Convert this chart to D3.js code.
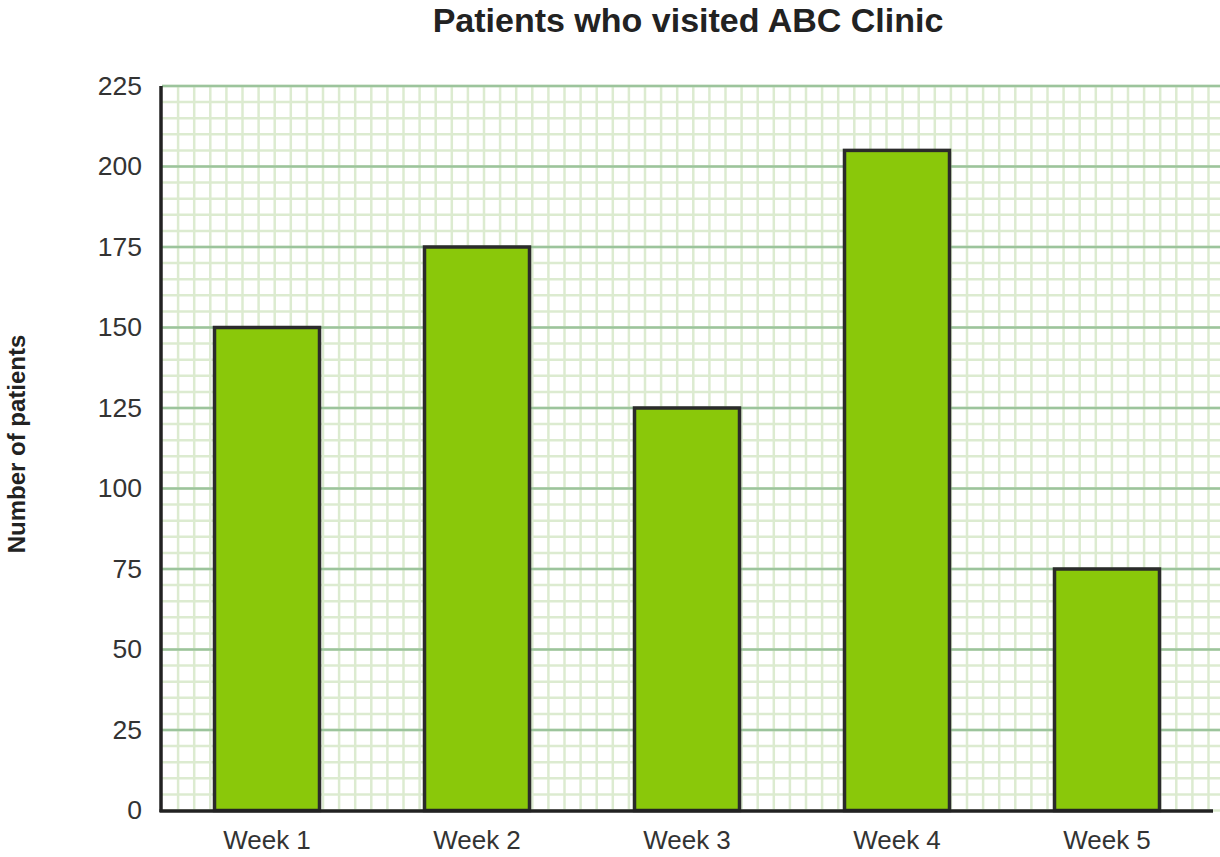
<!DOCTYPE html>
<html>
<head>
  <style>
    body { margin: 0px; padding: 0px; background: #fff; }
    svg text { font-family: Arial, "Liberation Sans", sans-serif; }
  </style>
</head>
<body>
  <div id="chart"></div>
  <script src="https://cdn.jsdelivr.net/npm/d3@7"></script>
  <script>
    // data
    var weeks = ['Week 1', 'Week 2', 'Week 3', 'Week 4', 'Week 5'];
    var patients = [150, 175, 125, 205, 75];
    var yTicks = [0, 25, 50, 75, 100, 125, 150, 175, 200, 225];

    var width = 1220, height = 857;
    var plotLeft = 162, plotRight = 1212, plotTop = 86, plotBottom = 810.5;

    var svg = d3.select('#chart').append('svg')
      .attr('width', width).attr('height', height);

    var y = d3.scaleLinear().domain([0, 225]).range([plotBottom, plotTop]);
    var x = d3.scaleBand().domain(weeks).range([plotLeft, plotRight])
      .paddingInner(0.5).paddingOuter(0.25);

    // minor grid, 5 units a square, same size both ways
    var cell = y(0) - y(5);
    var grid = svg.append('g');
    grid.selectAll('line.hminor')
      .data(d3.range(0, 226, 5))
      .enter().append('line')
      .attr('x1', plotLeft).attr('x2', width)
      .attr('y1', function(d) { return y(d); })
      .attr('y2', function(d) { return y(d); })
      .style('stroke', '#dcebd0').style('stroke-width', 2.5);
    grid.selectAll('line.vminor')
      .data(d3.range(1, Math.ceil((width - plotLeft) / cell)))
      .enter().append('line')
      .attr('x1', function(d) { return plotLeft + d * cell; })
      .attr('x2', function(d) { return plotLeft + d * cell; })
      .attr('y1', plotTop).attr('y2', plotBottom)
      .style('stroke', '#dcebd0').style('stroke-width', 2.5);
    grid.selectAll('line.major')
      .data(yTicks.slice(1))
      .enter().append('line')
      .attr('x1', plotLeft).attr('x2', width)
      .attr('y1', function(d) { return y(d); })
      .attr('y2', function(d) { return y(d); })
      .style('stroke', '#9cc49c').style('stroke-width', 2.5);

    // bars
    svg.selectAll('rect.bar')
      .data(patients)
      .enter().append('rect')
      .attr('x', function(d, i) { return x(weeks[i]); })
      .attr('y', function(d) { return y(d); })
      .attr('width', x.bandwidth())
      .attr('height', function(d) { return y(0) - y(d); })
      .style('fill', '#8ac80a')
      .style('stroke', '#2b2b2b')
      .style('stroke-width', 3.5);

    // axes
    svg.append('g')
      .attr('transform', 'translate(' + (plotLeft - 1) + ',0)')
      .call(d3.axisLeft(y).tickValues(yTicks).tickSize(0).tickPadding(19))
      .call(function(g) {
        g.select('.domain').attr('d', 'M0,' + plotTop + 'V' + (plotBottom + 1.5))
          .style('stroke', '#222').style('stroke-width', 3.5);
        g.selectAll('text').style('font-size', '26.5px').style('fill', '#333')
          .style('font-family', 'Arial, "Liberation Sans", sans-serif');
      });
    svg.append('g')
      .attr('transform', 'translate(0,' + (plotBottom + 0.5) + ')')
      .call(d3.axisBottom(x).tickSize(0).tickPadding(20))
      .call(function(g) {
        g.select('.domain').attr('d', 'M' + (plotLeft - 2.5) + ',0H' + (plotRight + 1))
          .style('stroke', '#222').style('stroke-width', 3.5);
        g.selectAll('text').style('font-size', '26px').style('fill', '#333')
          .style('font-family', 'Arial, "Liberation Sans", sans-serif');
      });

    // titles
    svg.append('text')
      .attr('x', 688).attr('y', 32)
      .attr('text-anchor', 'middle')
      .style('font-size', '34px').style('font-weight', 'bold').style('fill', '#222')
      .text('Patients who visited ABC Clinic');
    svg.append('text')
      .attr('transform', 'translate(25,444) rotate(-90)')
      .attr('text-anchor', 'middle')
      .style('font-size', '24px').style('font-weight', 'bold').style('fill', '#222')
      .text('Number of patients');
  </script>
</body>
</html>
